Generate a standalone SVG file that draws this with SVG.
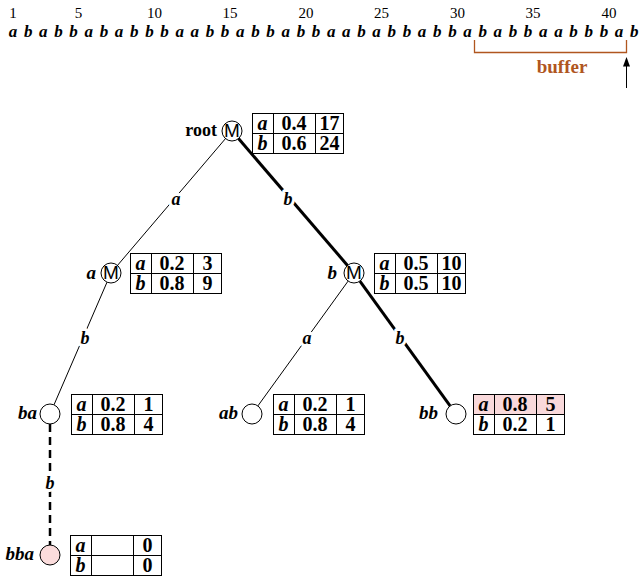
<svg xmlns="http://www.w3.org/2000/svg" xmlns:xlink="http://www.w3.org/1999/xlink" width="640" height="576" viewBox="0 0 640 576">
<style>
.seq{font-family:"Liberation Serif",serif;font-style:italic;font-weight:bold;font-size:17px;text-anchor:middle}
.num{font-family:"Liberation Serif",serif;font-size:15px;text-anchor:middle}
.buf{font-family:"Liberation Serif",serif;font-weight:bold;font-size:19px;fill:#b0561f;text-anchor:middle}
.nl{font-family:"Liberation Serif",serif;font-style:italic;font-weight:bold;font-size:19px;text-anchor:end}
.rl{font-family:"Liberation Serif",serif;font-weight:bold;font-size:18px;text-anchor:end}
.el{font-family:"Liberation Serif",serif;font-style:italic;font-weight:bold;font-size:18px;text-anchor:middle;stroke:#fff;stroke-width:6;paint-order:stroke;stroke-linejoin:round}
.tt{font-family:"Liberation Serif",serif;font-weight:bold;font-size:20px;text-anchor:middle}
.ti{font-style:italic}
.m{font-family:"Liberation Sans",sans-serif;font-size:19px;text-anchor:middle}
.nc{fill:#fff;stroke:#000;stroke-width:1}
.pink{fill:#f9d9db}
.thin{stroke:#000;stroke-width:1;fill:none}
.thick{stroke:#000;stroke-width:3;fill:none}
.dash{stroke:#000;stroke-width:2.5;fill:none;stroke-dasharray:8 5}
</style>
<defs>
<g id="grid" fill="none" stroke="#000" stroke-width="1">
<rect x="0.5" y="0.5" width="91" height="40"/>
<path d="M21.5,0.5V40.5M63.5,0.5V40.5M0.5,20.5H91.5"/>
</g>
</defs>

<g id="sequence">
<text class="num" x="13" y="18">1</text>
<text class="num" x="78.6" y="18">5</text>
<text class="num" x="154.4" y="18">10</text>
<text class="num" x="230.1" y="18">15</text>
<text class="num" x="305.9" y="18">20</text>
<text class="num" x="381.6" y="18">25</text>
<text class="num" x="457.4" y="18">30</text>
<text class="num" x="533.1" y="18">35</text>
<text class="num" x="608.9" y="18">40</text>
<text class="seq" y="37" x="13 28.2 43.3 58.5 73.6 88.8 103.9 119.1 134.2 149.4 164.5 179.7 194.8 210 225.1 240.3 255.4 270.6 285.7 300.9 316 331.2 346.3 361.5 376.6 391.8 406.9 422.1 437.2 452.4 467.5 482.7 497.8 513 528.1 543.3 558.4 573.6 588.7 603.9 619 634.2">ababbababbbaabbabbabbaababbabbababbaabbbab</text>
<path d="M474.5,40V52.5H626.5V40" fill="none" stroke="#b0561f" stroke-width="1.3"/>
<text class="buf" x="562" y="73">buffer</text>
<line x1="626.5" y1="88" x2="626.5" y2="64" stroke="#000" stroke-width="1"/>
<polygon points="626.5,57 623,66.5 630,66.5" fill="#000"/>
</g>

<g id="connectors">
<line class="thin" x1="225.5" y1="138.6" x2="117.5" y2="265.4"/>
<line class="thick" x1="238.5" y1="138.6" x2="347.5" y2="265.4"/>
<line class="thin" x1="107" y1="282.2" x2="54" y2="404.8"/>
<line class="thin" x1="348.1" y1="281.1" x2="257.9" y2="405.9"/>
<line class="thick" x1="359.9" y1="281.1" x2="450.1" y2="405.9"/>
<line class="dash" x1="50" y1="424" x2="50" y2="545"/>
<text class="el" x="176" y="205">a</text>
<text class="el" x="288" y="205">b</text>
<text class="el" x="85" y="344">b</text>
<text class="el" x="307" y="344">a</text>
<text class="el" x="400" y="344">b</text>
<text class="el" x="50" y="489">b</text>
</g>

<g id="node-root">
<text class="rl" x="217" y="136">root</text>
<circle class="nc" cx="232" cy="131" r="10"/>
<text class="m" x="232" y="137">M</text>
<g transform="translate(252,113)">
<use xlink:href="#grid"/>
<text class="tt ti" x="10.5" y="17">a</text><text class="tt" x="42" y="17">0.4</text><text class="tt" x="77.5" y="17">17</text>
<text class="tt ti" x="10.5" y="37">b</text><text class="tt" x="42" y="37">0.6</text><text class="tt" x="77.5" y="37">24</text>
</g>
</g>

<g id="node-a">
<text class="nl" x="96" y="279">a</text>
<circle class="nc" cx="111" cy="273" r="10"/>
<text class="m" x="111" y="279">M</text>
<g transform="translate(130,253)">
<use xlink:href="#grid"/>
<text class="tt ti" x="10.5" y="17">a</text><text class="tt" x="42" y="17">0.2</text><text class="tt" x="77.5" y="17">3</text>
<text class="tt ti" x="10.5" y="37">b</text><text class="tt" x="42" y="37">0.8</text><text class="tt" x="77.5" y="37">9</text>
</g>
</g>

<g id="node-b">
<text class="nl" x="337" y="279">b</text>
<circle class="nc" cx="354" cy="273" r="10"/>
<text class="m" x="354" y="279">M</text>
<g transform="translate(374,253)">
<use xlink:href="#grid"/>
<text class="tt ti" x="10.5" y="17">a</text><text class="tt" x="42" y="17">0.5</text><text class="tt" x="77.5" y="17">10</text>
<text class="tt ti" x="10.5" y="37">b</text><text class="tt" x="42" y="37">0.5</text><text class="tt" x="77.5" y="37">10</text>
</g>
</g>

<g id="node-ba">
<text class="nl" x="37" y="419">ba</text>
<circle class="nc" cx="50" cy="414" r="10"/>
<g transform="translate(71,394)">
<use xlink:href="#grid"/>
<text class="tt ti" x="10.5" y="17">a</text><text class="tt" x="42" y="17">0.2</text><text class="tt" x="77.5" y="17">1</text>
<text class="tt ti" x="10.5" y="37">b</text><text class="tt" x="42" y="37">0.8</text><text class="tt" x="77.5" y="37">4</text>
</g>
</g>

<g id="node-ab">
<text class="nl" x="238" y="419">ab</text>
<circle class="nc" cx="252" cy="414" r="10"/>
<g transform="translate(273,394)">
<use xlink:href="#grid"/>
<text class="tt ti" x="10.5" y="17">a</text><text class="tt" x="42" y="17">0.2</text><text class="tt" x="77.5" y="17">1</text>
<text class="tt ti" x="10.5" y="37">b</text><text class="tt" x="42" y="37">0.8</text><text class="tt" x="77.5" y="37">4</text>
</g>
</g>

<g id="node-bb">
<text class="nl" x="438" y="419">bb</text>
<circle class="nc" cx="456" cy="414" r="10"/>
<g transform="translate(473,394)">
<rect class="pink" x="0.5" y="0.5" width="91" height="20"/>
<use xlink:href="#grid"/>
<text class="tt ti" x="10.5" y="17">a</text><text class="tt" x="42" y="17">0.8</text><text class="tt" x="77.5" y="17">5</text>
<text class="tt ti" x="10.5" y="37">b</text><text class="tt" x="42" y="37">0.2</text><text class="tt" x="77.5" y="37">1</text>
</g>
</g>

<g id="node-bba">
<text class="nl" x="34" y="560">bba</text>
<circle class="nc" cx="50" cy="555" r="10" style="fill:#fbdcdc"/>
<g transform="translate(70,535)">
<use xlink:href="#grid"/>
<text class="tt ti" x="10.5" y="17">a</text><text class="tt" x="77.5" y="17">0</text>
<text class="tt ti" x="10.5" y="37">b</text><text class="tt" x="77.5" y="37">0</text>
</g>
</g>
</svg>
